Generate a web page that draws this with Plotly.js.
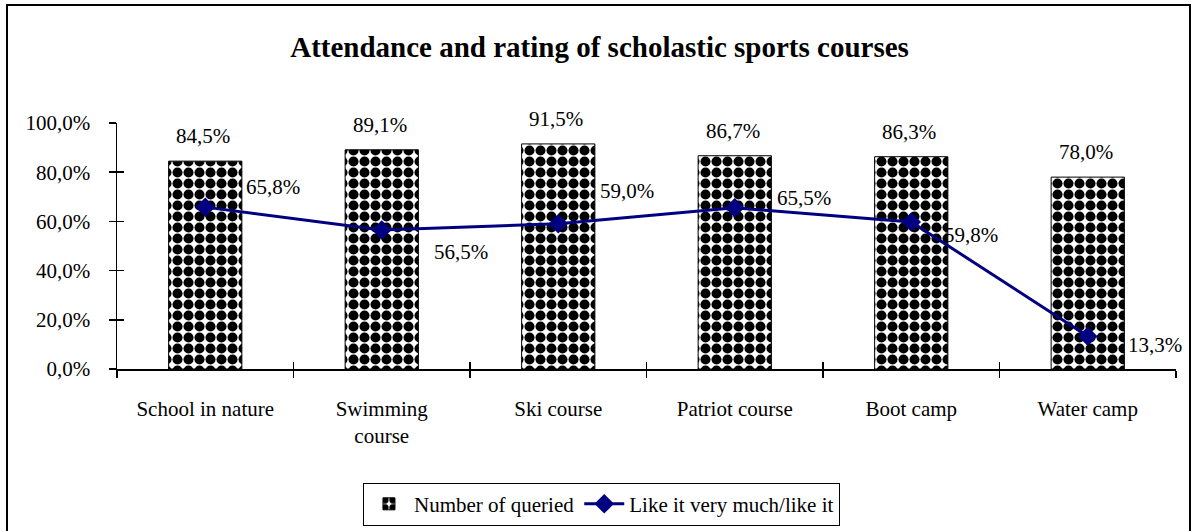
<!DOCTYPE html>
<html>
<head>
<meta charset="utf-8">
<script src="https://cdn.plot.ly/plotly-3.0.1.min.js"></script>
<style>html,body{margin:0;padding:0;background:#fff;}#chart{width:1192px;height:531px;}</style>
</head>
<body>
<div id="chart"></div>
<script>
var categories = ["School in nature", "Swimming<br>course", "Ski course", "Patriot course", "Boot camp", "Water camp"];
var queried = [0.845, 0.891, 0.915, 0.867, 0.863, 0.780];
var likeIt = [0.658, 0.565, 0.590, 0.655, 0.598, 0.133];
var yTicks = [0, 0.2, 0.4, 0.6, 0.8, 1.0];
var title = "Attendance and rating of scholastic sports courses";

// label offsets (px) for the line labels
var lineLabelShift = [[68, 20], [79, -22], [69, 33], [69, 10], [60, -13], [67, -9]];

function fmt(v) { return (v * 100).toFixed(1).replace('.', ',') + '%'; }

var FONT = "Liberation Serif, Times New Roman, serif";
var FS = 21;

var traces = [
  {
    type: 'bar', x: categories, y: queried, name: 'Number of queried',
    marker: {
      color: '#ffffff',
      line: {color: '#000000', width: 1},
      pattern: {shape: '.', fgcolor: '#000000', bgcolor: '#ffffff', size: 11, solidity: 0.66, fillmode: 'replace'}
    },
    hoverinfo: 'skip'
  },
  {
    type: 'scatter', mode: 'lines+markers', x: categories, y: likeIt, name: 'Like it very much/like it',
    line: {color: '#000080', width: 3},
    marker: {symbol: 'diamond', size: 15, color: '#000080'},
    hoverinfo: 'skip'
  },
  {
    type: 'scatter', mode: 'none', x: categories, y: likeIt, xaxis: 'x2', yaxis: 'y2',
    showlegend: false, hoverinfo: 'skip'
  }
];

var annotations = [];
categories.forEach(function (c, i) {
  annotations.push({x: c, y: queried[i], text: fmt(queried[i]), showarrow: false,
    xanchor: 'center', yanchor: 'middle', yshift: 25, xshift: -2,
    font: {family: FONT, size: FS, color: '#000'}});
  annotations.push({x: c, y: likeIt[i], text: fmt(likeIt[i]), showarrow: false,
    xanchor: 'center', yanchor: 'middle', xshift: lineLabelShift[i][0], yshift: lineLabelShift[i][1],
    font: {family: FONT, size: FS, color: '#000'}});
});

var layout = {
  width: 1192, height: 531,
  paper_bgcolor: '#ffffff', plot_bgcolor: '#ffffff',
  margin: {l: 117, r: 16, t: 123, b: 162},
  separators: ', ',
  font: {family: FONT, size: FS, color: '#000'},
  title: {text: '<b>' + title + '</b>', x: 0.503, xref: 'container', y: 0.911, yref: 'container',
    xanchor: 'center', yanchor: 'middle', font: {family: FONT, size: 29, color: '#000'}},
  bargap: 0.585,
  showlegend: true,
  legend: {orientation: 'h', xref: 'container', yref: 'container', x: 0.3045, y: 0.091,
    xanchor: 'left', yanchor: 'top', bordercolor: '#000', borderwidth: 1,
    font: {family: FONT, size: FS, color: '#000'}, traceorder: 'normal', itemwidth: 40},
  xaxis: {type: 'category', range: [-0.5, 5.5], showline: true, linecolor: '#000', linewidth: 1.5,
    ticks: 'outside', ticklen: 7, tickcolor: '#000', tickwidth: 1.5, tickson: 'boundaries',
    showgrid: false, zeroline: false, ticklabelstandoff: 20,
    tickfont: {family: FONT, size: FS, color: '#000'}},
  yaxis: {range: [0, 1], tickvals: yTicks, tickformat: '.1%', showline: true, linecolor: '#000', linewidth: 1.5,
    ticks: 'outside', ticklen: 7, tickcolor: '#000', tickwidth: 1.5, showgrid: false, zeroline: false,
    ticklabelstandoff: 14, tickfont: {family: FONT, size: FS, color: '#000'}},
  xaxis2: {type: 'category', overlaying: 'x', range: [-0.5, 5.5], ticks: 'inside', ticklen: 7, tickcolor: '#000',
    tickwidth: 1.5, tickson: 'boundaries', showticklabels: false, showgrid: false, zeroline: false, showline: false},
  yaxis2: {overlaying: 'y', range: [0, 1], tickvals: yTicks, ticks: 'inside', ticklen: 7, tickcolor: '#000',
    tickwidth: 1.5, showticklabels: false, showgrid: false, zeroline: false, showline: false},
  annotations: annotations,
  shapes: [{type: 'rect', xref: 'paper', yref: 'paper',
    x0: (7 - 117) / 1059, x1: (1190 - 117) / 1059, y0: (369 - 534) / 246, y1: (369 - 5) / 246,
    line: {color: '#000', width: 2}, fillcolor: 'rgba(0,0,0,0)', layer: 'below'}]
};

Plotly.newPlot('chart', traces, layout, {staticPlot: true, displayModeBar: false});
</script>
</body>
</html>
